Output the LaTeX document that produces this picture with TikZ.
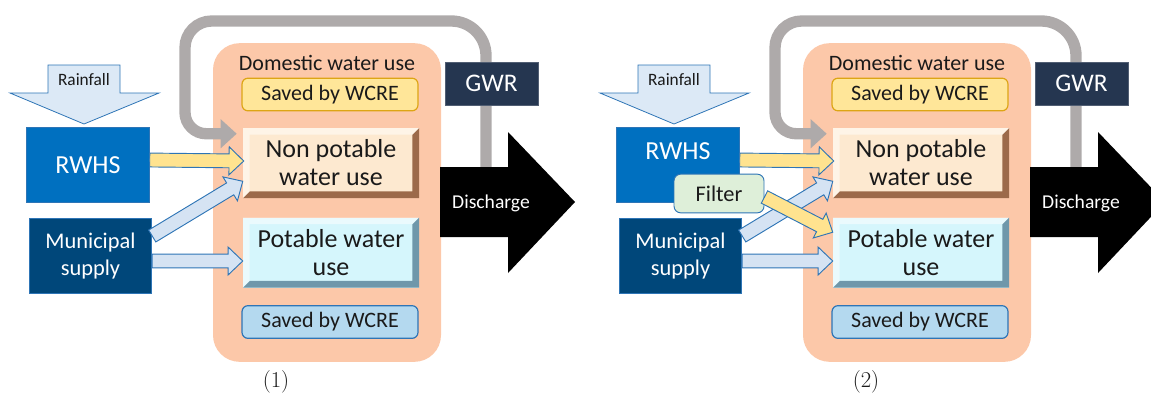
\documentclass[tikz,border=0pt]{standalone}
\usepackage{fontspec}
\setsansfont{Carlito}
\usetikzlibrary{arrows.meta,calc}
\definecolor{peach}{HTML}{FCC8A9}
\definecolor{ink}{HTML}{1A1A1A}
\definecolor{rainfill}{HTML}{DCE9F6}
\definecolor{blueline}{HTML}{2E75B6}
\definecolor{rwhsblue}{HTML}{0070C0}
\definecolor{munblue}{HTML}{00477A}
\definecolor{savedyel}{HTML}{FFE699}
\definecolor{goldline}{HTML}{DDA515}
\definecolor{savedblu}{HTML}{B4D9EF}
\definecolor{npwfill}{HTML}{FDE9D0}
\definecolor{npwdark}{HTML}{9C6A4A}
\definecolor{pwfill}{HTML}{D5F6FC}
\definecolor{pwdark}{HTML}{6F97AA}
\definecolor{gwrnavy}{HTML}{253650}
\definecolor{loopgray}{HTML}{AEAAAA}
\definecolor{arrowyel}{HTML}{FFE38F}
\definecolor{arrowblu}{HTML}{D5E3F3}
\definecolor{filtgreen}{HTML}{DEEFD9}

\newcommand{\fsz}[2]{\fontsize{#1}{#2}\selectfont}
% block arrow: style, start, tip
\newcommand{\fatarrow}[3]{%
  \coordinate (fa-h) at ($(#3)!11pt!(#2)$);
  \filldraw[#1] ($(#2)!5.2pt!90:(#3)$) -- ($(fa-h)!5.2pt!90:(#3)$)
    -- ($(fa-h)!10.5pt!90:(#3)$) -- (#3) -- ($(fa-h)!10.5pt!-90:(#3)$)
    -- ($(fa-h)!5.2pt!-90:(#3)$) -- ($(#2)!5.2pt!-90:(#3)$) -- cycle;}

\begin{document}
\begin{tikzpicture}[x=0.75pt,y=-0.75pt,font=\sffamily\fsz{16.5}{19},text=ink,
  house/.style={fill=peach,rounded corners=20pt,minimum width=171pt,minimum height=239pt},
  saved/.style={rounded corners=4.5pt,line width=.9pt,minimum width=132pt,minimum height=24.5pt},
  use/.style 2 args={fill=#1,minimum width=132pt,minimum height=52.5pt,align=center,
    font=\sffamily\fsz{19.5}{21},
    path picture={
      \fill[#2] (path picture bounding box.south west) -- (path picture bounding box.south east)
        -- (path picture bounding box.north east) -- ([xshift=-5pt,yshift=-5pt]path picture bounding box.north east)
        -- ([xshift=-5pt,yshift=5pt]path picture bounding box.south east)
        -- ([xshift=5pt,yshift=5pt]path picture bounding box.south west) -- cycle;
      \fill[white,opacity=.5] (path picture bounding box.south west) -- (path picture bounding box.north west)
        -- (path picture bounding box.north east) -- ([xshift=-5pt,yshift=-5pt]path picture bounding box.north east)
        -- ([xshift=5pt,yshift=-5pt]path picture bounding box.north west)
        -- ([xshift=5pt,yshift=5pt]path picture bounding box.south west) -- cycle;}},
  src/.style={draw=blueline,line width=.6pt,minimum width=92pt,minimum height=56pt,text=white,align=center},
  filter/.style={fill=filtgreen,draw=blueline,line width=.7pt,rounded corners=5pt,
    minimum width=67.5pt,minimum height=29pt,font=\sffamily\fsz{16.8}{19}},
  yel/.style={fill=arrowyel,draw=blueline,line width=.7pt},
  pale/.style={fill=arrowblu,draw=blueline,line width=.7pt},
  recycle/.style={draw=loopgray,line width=8.5pt,rounded corners=20pt,-{Triangle[length=12pt,width=21pt]}}]
\useasboundingbox (0,0) rectangle (1151,394);
\clip (0,0) rectangle (1151,394);
\foreach \p/\dx/\ry in {1/0/0,2/590/-14}{
\begin{scope}[shift={(\dx,0)}]
% household
\node[house] (house\p) at (327,202.5) {};
\node (dom\p) at (327,63) {Domestic water use};
\node[saved,fill=savedyel,draw=goldline] (sy\p) at (330,94.5) {Saved by WCRE};
\node[use={npwfill}{npwdark}] (npw\p) at (331,163) {Non potable\\water use};
\node[use={pwfill}{pwdark}] (pw\p) at (331,252.5) {Potable water\\use};
\node[saved,fill=savedblu,draw=blueline] (sb\p) at (330,322) {Saved by WCRE};
% sources
\filldraw[fill=rainfill,draw=blueline,line width=.6pt] (48,65) -- (120,65) -- (120,93) -- (159,93)
  -- (84,124) -- (10,93) -- (48,93) -- cycle;
\node[font=\sffamily\fsz{13}{15}] (rain\p) at (84,80) {Rainfall};
\node[src,fill=rwhsblue] (rwhs\p) at (88,165) {};
\node[text=white,font=\sffamily\fsz{19.5}{21}] (rwhst\p) at ($(rwhs\p)+(0,\ry)$) {RWHS};
\node[src,fill=munblue,font=\sffamily\fsz{16.8}{20}] (mun\p) at (90.5,256) {Municipal\\supply};
\ifnum\p=2 \node[filter] (filt\p) at (129,193.5) {Filter}; \fi
% supply arrows
\coordinate (ys\p) at ($(rwhs\p.east)+(0,-5)$);
\coordinate (ye\p) at ($(npw\p.west)+(1,-2)$);
\coordinate (bs\p) at ($(mun\p.east)+(0,-20)$);
\coordinate (be\p) at ($(npw\p.south west)+(0,-17)$);
\coordinate (hs\p) at ($(mun\p.east)+(0,5)$);
\coordinate (he\p) at (hs\p -| pw\p.west);
\fatarrow{pale}{hs\p}{he\p}
\fatarrow{pale}{bs\p}{be\p}
\fatarrow{yel}{ys\p}{ye\p}
\ifnum\p=2
  \coordinate (fs\p) at ($(filt\p.east)+(0,3.5)$);
  \coordinate (fe\p) at ($(pw\p.north west)+(0,15)$);
  \fatarrow{yel}{fs\p}{fe\p}
\fi
% grey water loop and discharge
\coordinate (gt\p) at (486,167);
\draw[recycle] (gt\p) [rounded corners=26pt] -- (486,21) [rounded corners=20pt] -- (185,21)
  [rounded corners=16pt] |- ($(npw\p.north west)+(-6,6)$);
\node[fill=gwrnavy,draw=gwrnavy!80!white,text=white,font=\sffamily\fsz{19}{21},
  minimum width=69.75pt,minimum height=32.25pt] (gwr\p) at (491.5,83.5) {GWR};
\fill (440,167) -- (508,167) -- (508,132) -- (575,202) -- (508,273) -- (508,237) -- (440,237) -- cycle;
\node[text=white,font=\sffamily\fsz{14.7}{16}] (dis\p) at (491,203) {Discharge};
\node[font=\rmfamily\fsz{17}{19}] (cap\p) at (276,382) {(\p)};
\end{scope}
}
\end{tikzpicture}
\end{document}
